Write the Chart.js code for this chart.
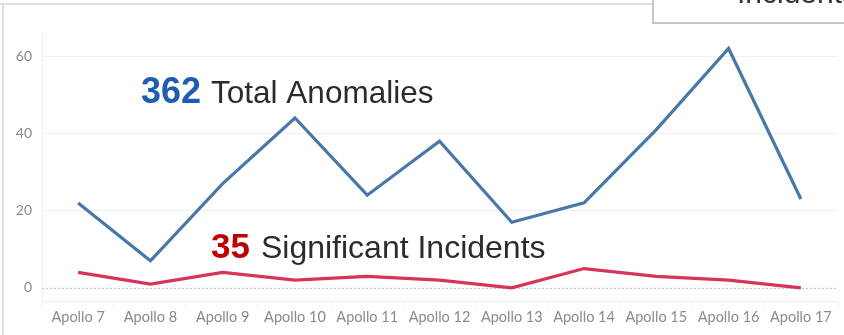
<!DOCTYPE html>
<html><head><meta charset="utf-8">
<script src="https://cdn.jsdelivr.net/npm/chart.js@4/dist/chart.umd.min.js"></script>
<style>html,body{margin:0;padding:0;background:#fff;}#wrap{width:844px;height:335px;position:relative;}</style>
</head><body><div id="wrap"><canvas id="c" width="844" height="335"></canvas></div>
<script>
const categories = ["Apollo 7","Apollo 8","Apollo 9","Apollo 10","Apollo 11","Apollo 12","Apollo 13","Apollo 14","Apollo 15","Apollo 16","Apollo 17"];
const anomalies = [22, 7, 27, 44, 24, 38, 17, 22, 41, 62, 23];
const incidents = [4, 1, 4, 2, 3, 2, 0, 5, 3, 2, 0];
const yTicks = [0, 20, 40, 60];
const totalAnomaliesText = ["362", "Total Anomalies"];
const incidentsText = ["35", "Significant Incidents"];
const boxTitle = "Incidents";

const decor = {
  id: 'decor',
  beforeDraw(chart) {
    const ctx = chart.ctx;
    ctx.save();
    ctx.fillStyle = '#fff';
    ctx.fillRect(0, 0, chart.width, chart.height);
    ctx.strokeStyle = '#dedede';
    ctx.lineWidth = 2;
    ctx.beginPath();
    ctx.moveTo(0, 4); ctx.lineTo(653, 4);
    ctx.moveTo(3, 4); ctx.lineTo(3, 335);
    ctx.stroke();
    ctx.restore();
  },
  afterDraw(chart) {
    const ctx = chart.ctx;
    ctx.save();
    ctx.fillStyle = '#fff';
    ctx.fillRect(653, 0, 191, 23);
    ctx.strokeStyle = '#c6c6c6';
    ctx.lineWidth = 2;
    ctx.beginPath();
    ctx.moveTo(653, 0); ctx.lineTo(653, 23); ctx.lineTo(844, 23);
    ctx.stroke();
    ctx.fillStyle = '#333';
    ctx.font = '30px "Liberation Sans", Arial, sans-serif';
    ctx.textBaseline = 'alphabetic';
    ctx.fillText(boxTitle, 737, 2.5);
    function label(parts, x, y, color, bs, rs, gap) {
      ctx.font = 'bold ' + bs + 'px "Liberation Sans", Arial, sans-serif';
      ctx.fillStyle = color;
      ctx.fillText(parts[0], x, y);
      const w = ctx.measureText(parts[0]).width;
      ctx.font = rs + 'px "Liberation Sans", Arial, sans-serif';
      ctx.fillStyle = '#2b2b2b';
      ctx.fillText(parts[1], x + w + gap, y);
    }
    label(totalAnomaliesText, 141, 103, '#1f5db0', 36, 31.5, 10);
    label(incidentsText, 211, 258, '#c00000', 35, 32, 11);
    ctx.restore();
  }
};

new Chart(document.getElementById('c'), {
  type: 'line',
  data: {
    labels: categories,
    datasets: [
      { data: anomalies, borderColor: '#4878a8', borderWidth: 3.2, pointRadius: 0, tension: 0, fill: false },
      { data: incidents, borderColor: '#d8345a', borderWidth: 3.2, pointRadius: 0, tension: 0, fill: false }
    ]
  },
  options: {
    responsive: false,
    animation: false,
    devicePixelRatio: 1,
    layout: { padding: { top: 33, right: 7, left: 0, bottom: 0 } },
    plugins: { legend: { display: false }, tooltip: { enabled: false } },
    scales: {
      x: {
        offset: true,
        grid: { offset: true, drawOnChartArea: false, drawTicks: true, tickLength: 8, color: '#eeeeee' },
        border: { color: '#eeeeee' },
        ticks: { color: '#8a8a8a', font: { family: 'Lato, "Open Sans", sans-serif', size: 14.5 }, padding: 0, maxRotation: 0, autoSkip: false },
        afterFit(s) { s.height = 34; }
      },
      y: {
        min: -3.4, max: 66,
        afterBuildTicks(s) { s.ticks = yTicks.map(v => ({ value: v })); },
        grid: {
          drawTicks: false,
          color: ctx => ctx.tick && ctx.tick.value === 0 ? '#c4c4c4' : '#efefef',
          lineWidth: 1
        },
        border: { color: '#f0f0f0' },
        ticks: { color: '#8a8a8a', font: { family: 'Lato, "Open Sans", sans-serif', size: 14 }, padding: 10 },
        afterFit(s) { s.width = 42; }
      }
    }
  },
  plugins: [decor, {
    id: 'dash0',
    beforeDatasetsDraw(chart) {
      const y = chart.scales.y.getPixelForValue(0);
      const ctx = chart.ctx, a = chart.chartArea;
      ctx.save();
      ctx.fillStyle = '#fff';
      ctx.fillRect(a.left + 1, y - 1, a.right - a.left, 2);
      ctx.strokeStyle = '#bdbdbd';
      ctx.setLineDash([2, 2]);
      ctx.lineWidth = 1;
      ctx.beginPath(); ctx.moveTo(a.left, y + 0.5); ctx.lineTo(a.right, y + 0.5); ctx.stroke();
      ctx.restore();
    }
  }]
});
</script></body></html>
